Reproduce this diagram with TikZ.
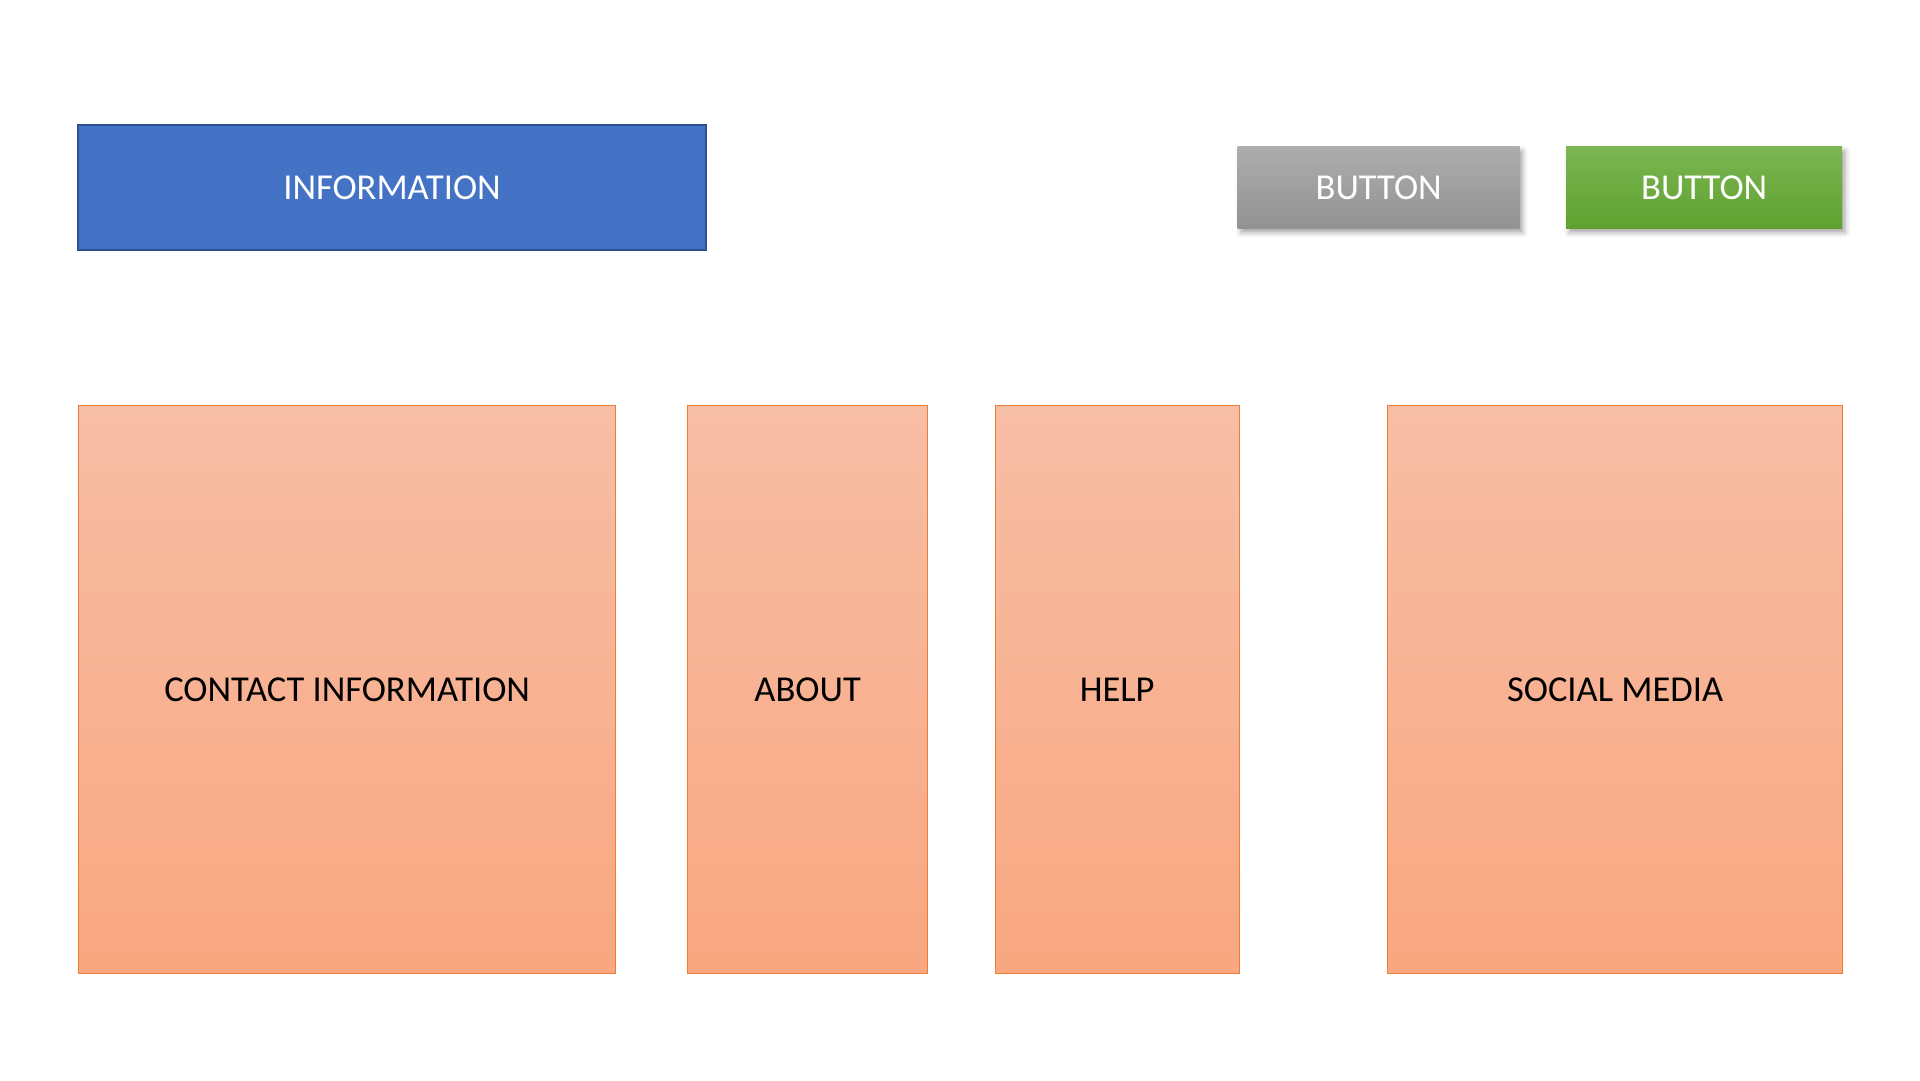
\documentclass[tikz,border=0pt]{standalone}
\usepackage{fontspec}
\setmainfont{Carlito}
\usetikzlibrary{shadows.blur}
\definecolor{infoblue}{HTML}{4472C4}
\definecolor{infoedge}{HTML}{2F528F}
\definecolor{peachtop}{HTML}{F7BEA6}
\definecolor{peachbot}{HTML}{F8A780}
\definecolor{peachedge}{HTML}{ED7D31}
\definecolor{greytop}{HTML}{ADADAD}
\definecolor{greybot}{HTML}{929292}
\definecolor{greentop}{HTML}{7BB652}
\definecolor{greenbot}{HTML}{5FA12F}
\tikzset{
  label font/.style={font=\fontsize{36.5}{42}\selectfont},
  infobox/.style={draw=infoedge, line width=2pt, fill=infoblue, text=white,
    label font, anchor=north west, inner sep=0pt},
  panel/.style={draw=peachedge, line width=1.3pt, top color=peachtop,
    bottom color=peachbot, text=black, label font, anchor=north west, inner sep=0pt},
  btn/.style={text=white, label font, anchor=north west, inner sep=0pt,
    blur shadow={shadow xshift=3pt, shadow yshift=-4pt, shadow blur radius=5pt,
      shadow opacity=35}},
  greybtn/.style={btn, top color=greytop, bottom color=greybot},
  greenbtn/.style={btn, top color=greentop, bottom color=greenbot},
}
\begin{document}
\begin{tikzpicture}[x=1pt,y=-1pt]
\useasboundingbox (0,0) rectangle (1920,1080);
% header
\node[infobox, minimum width=628pt, minimum height=125pt] (info) at (77,124) {INFORMATION};
\node[greybtn, minimum width=282pt, minimum height=82pt] (btngrey) at (1237.5,146.5) {BUTTON};
\node[greenbtn, minimum width=276pt, minimum height=82pt] (btngreen) at (1566,146.5) {BUTTON};
% content panels
\node[panel, minimum width=537pt, minimum height=567.5pt] (contact) at (78,405) {CONTACT INFORMATION};
\node[panel, minimum width=240pt, minimum height=567.5pt] (about) at (687,405) {ABOUT};
\node[panel, minimum width=244pt, minimum height=567.5pt] (help) at (994.5,405) {HELP};
\node[panel, minimum width=455pt, minimum height=567.5pt] (social) at (1387,405) {SOCIAL MEDIA};
\end{tikzpicture}
\end{document}
